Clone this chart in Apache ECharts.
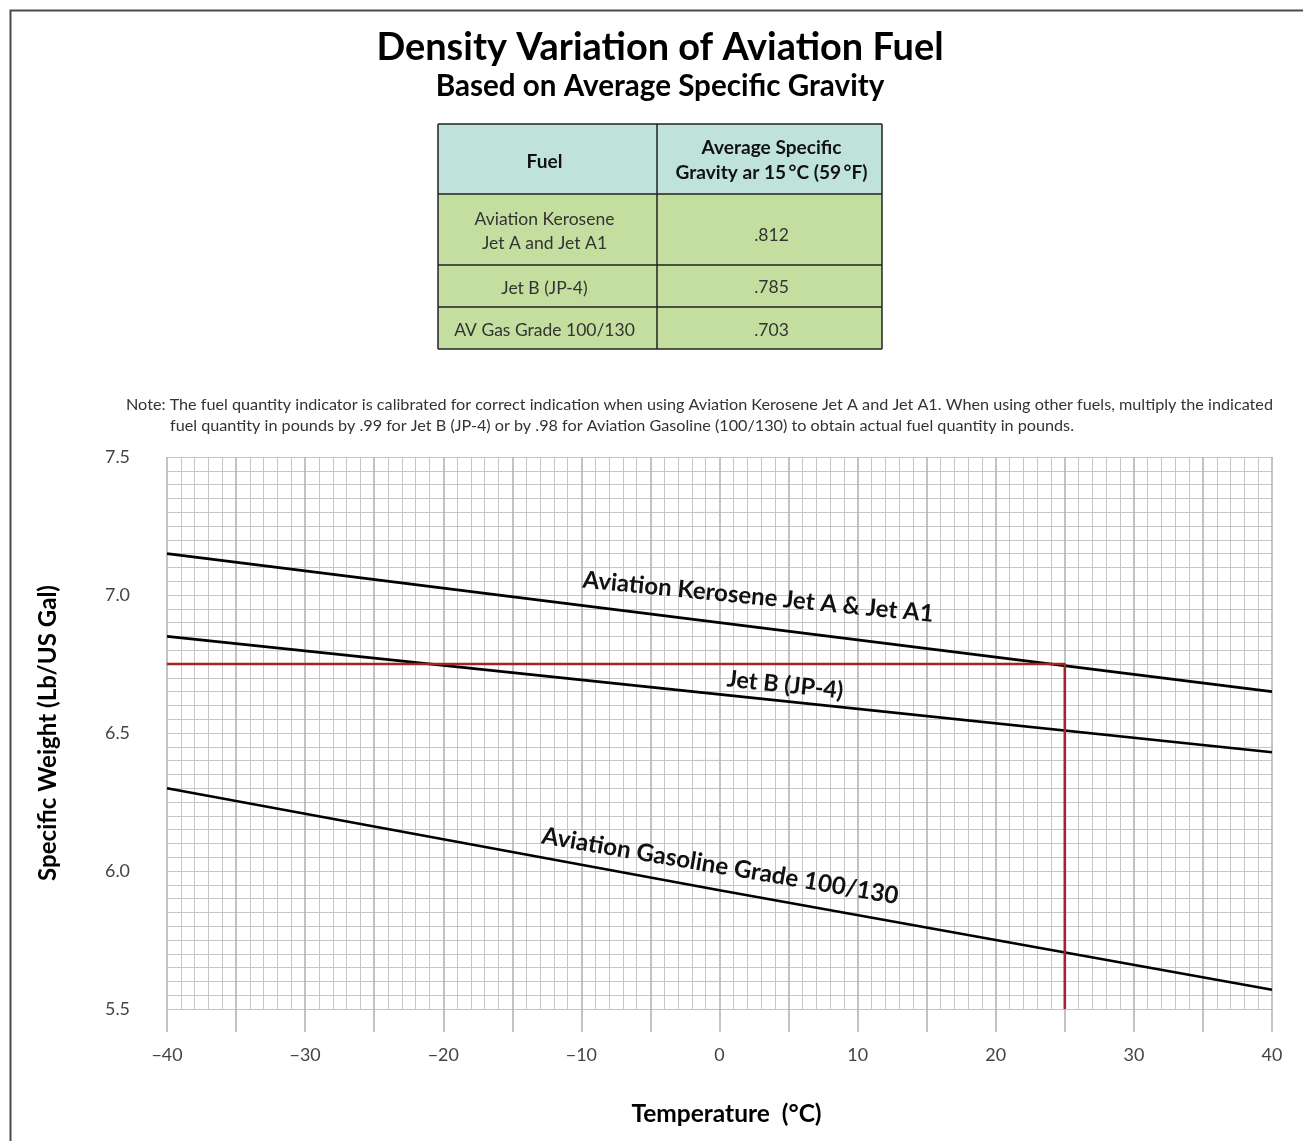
<!DOCTYPE html>
<html>
<head>
<meta charset="utf-8">
<script src="https://cdn.jsdelivr.net/npm/echarts@6/dist/echarts.min.js"></script>
<style>
html,body{margin:0;padding:0;background:#fff;}
#chart{width:1303px;height:1141px;}
</style>
</head>
<body>
<div id="chart"></div>
<script>
// ---- Data ----
const temperatures = [-40, 0, 40];
const keroseneWeight = [7.15, 6.90, 6.65];
const jetBWeight = [6.85, 6.64, 6.43];
const avgasWeight = [6.30, 5.93, 5.57];
const refTemp = 25;
const refWeight = 6.75;
const seriesNames = ['Aviation Kerosene Jet A & Jet A1', 'Jet B (JP-4)', 'Aviation Gasoline Grade 100/130'];
const labelAnchors = [[2.8, 6.993], [4.75, 6.674], [0.05, 6.018]];
const labelAngles = [5.6, 6.0, 9.7];
const tableFuel = ['Aviation Kerosene\nJet A and Jet A1', 'Jet B (JP-4)', 'AV Gas Grade 100/130'];
const tableGravity = ['.812', '.785', '.703'];
const tableHeader = ['Fuel', 'Average Specific\nGravity ar 15\u2009°C (59\u2009°F)'];
const titleText = 'Density Variation of Aviation Fuel';
const subtitleText = 'Based on Average Specific Gravity';
const noteLines = [
  'Note: The fuel quantity indicator is calibrated for correct indication when using Aviation Kerosene Jet A and Jet A1. When using other fuels, multiply the indicated',
  'fuel quantity in pounds by .99 for Jet B (JP-4) or by .98 for Aviation Gasoline (100/130) to obtain actual fuel quantity in pounds.'
];
const xAxisName = 'Temperature  (°C)';
const yAxisName = 'Specific Weight (Lb/US Gal)';

// ---- helpers ----
const FAM = 'Lato, "Open Sans", sans-serif';
const mctx = document.createElement('canvas').getContext('2d');
function fit(text, weight, width) {
  mctx.font = weight + ' 100px ' + FAM;
  const w = mctx.measureText(text).width;
  return Math.round(1000 * width / w) / 10;
}
const zip = (xs, ys) => xs.map((x, i) => [x, ys[i]]);

const chart = echarts.init(document.getElementById('chart'), null, {renderer: 'canvas'});

const gridColor = '#c6c6c6';
const majorColor = '#b4b4b4';
const tickFont = fit('7.0', 'normal', 25);

chart.setOption({
  animation: false,
  backgroundColor: '#fff',
  grid: {left: 167, right: 31, top: 457, bottom: 132},
  xAxis: {
    type: 'value', min: -40, max: 40, interval: 5,
    axisLine: {show: false},
    axisTick: {show: true, length: 23, lineStyle: {color: majorColor, width: 1.6}},
    splitLine: {show: true, lineStyle: {color: majorColor, width: 1.6}},
    minorTick: {show: false, splitNumber: 5},
    minorSplitLine: {show: true, lineStyle: {color: gridColor, width: 1}},
    axisLabel: {
      margin: 37, color: '#444', fontFamily: FAM, fontSize: tickFont,
      formatter: v => (v % 10 === 0 ? (v < 0 ? '\u2212' + Math.abs(v) : String(v)) : '')
    },
    name: xAxisName, nameLocation: 'middle', nameGap: 93,
    nameTextStyle: {fontFamily: FAM, fontWeight: 'bold', fontSize: fit(xAxisName, 'bold', 190), color: '#000', padding: [0, 0, 0, 14]}
  },
  yAxis: {
    type: 'value', min: 5.5, max: 7.5, interval: 0.1,
    axisLine: {show: false},
    axisTick: {show: true, length: 25, lineStyle: {color: gridColor, width: 1.2}},
    splitLine: {show: true, lineStyle: {color: gridColor, width: 1.2}},
    minorTick: {show: false, splitNumber: 2},
    minorSplitLine: {show: true, lineStyle: {color: gridColor, width: 1}},
    axisLabel: {
      margin: 37, color: '#444', fontFamily: FAM, fontSize: tickFont,
      formatter: v => (Math.abs(v * 2 - Math.round(v * 2)) < 1e-6 ? v.toFixed(1) : '')
    },
    name: yAxisName, nameLocation: 'middle', nameGap: 107, nameRotate: 90,
    nameTextStyle: {fontFamily: FAM, fontWeight: 'bold', fontSize: fit(yAxisName, 'bold', 296), color: '#000'}
  },
  series: [
    {name: seriesNames[0], type: 'line', symbol: 'none', silent: true, data: zip(temperatures, keroseneWeight), lineStyle: {color: '#000', width: 2.6}},
    {name: seriesNames[1], type: 'line', symbol: 'none', silent: true, data: zip(temperatures, jetBWeight), lineStyle: {color: '#000', width: 2.6}},
    {name: seriesNames[2], type: 'line', symbol: 'none', silent: true, data: zip(temperatures, avgasWeight), lineStyle: {color: '#000', width: 2.6}},
    {name: 'guide', type: 'line', symbol: 'none', silent: true, z: 3,
     data: [[temperatures[0], refWeight], [refTemp, refWeight], [refTemp, 5.5]],
     lineStyle: {color: '#a3232b', width: 2.6}}
  ]
});

// ---- graphics: frame, titles, table, note, line labels ----
const g = [];
g.push({type: 'rect', shape: {x: 10.5, y: 10.5, width: 1400, height: 1300}, style: {fill: 'none', stroke: '#4a4a4a', lineWidth: 2}, silent: true});
g.push({type: 'text', x: 660, y: 48, style: {text: titleText, font: 'bold ' + fit(titleText, 'bold', 568) + 'px ' + FAM, fill: '#000', textAlign: 'center', textVerticalAlign: 'middle'}});
g.push({type: 'text', x: 660, y: 86, style: {text: subtitleText, font: 'bold ' + fit(subtitleText, 'bold', 448) + 'px ' + FAM, fill: '#000', textAlign: 'center', textVerticalAlign: 'middle'}});

// table
const tX = [438, 657, 882];
const tY = [124, 194, 265, 307, 349];
const headFont = 'bold ' + fit('Gravity ar 15\u2009°C (59\u2009°F)', 'bold', 192) + 'px ' + FAM;
const bodyFont = 'normal ' + fit('AV Gas Grade 100/130', 'normal', 181) + 'px ' + FAM;
g.push({type: 'rect', shape: {x: tX[0], y: tY[0], width: tX[2] - tX[0], height: tY[1] - tY[0]}, style: {fill: '#bfe3db'}, silent: true});
g.push({type: 'rect', shape: {x: tX[0], y: tY[1], width: tX[2] - tX[0], height: tY[4] - tY[1]}, style: {fill: '#c3de9f'}, silent: true});
for (let i = 0; i < tY.length; i++) {
  g.push({type: 'line', shape: {x1: tX[0], y1: tY[i], x2: tX[2], y2: tY[i]}, style: {stroke: '#222', lineWidth: 1.5}, silent: true});
}
for (let j = 0; j < tX.length; j++) {
  g.push({type: 'line', shape: {x1: tX[j], y1: tY[0], x2: tX[j], y2: tY[4]}, style: {stroke: '#222', lineWidth: 1.5}, silent: true});
}
const colC = [(tX[0] + tX[1]) / 2 - 3, (tX[1] + tX[2]) / 2 + 2];
const headDy = [2.5, 1];
tableHeader.forEach((h, j) => {
  g.push({type: 'text', x: colC[j], y: (tY[0] + tY[1]) / 2 + headDy[j], style: {text: h, font: headFont, fill: '#111', textAlign: 'center', textVerticalAlign: 'middle', lineHeight: 25}});
});
const gravDy = [5.5, 1.5, 2];
tableFuel.forEach((f, i) => {
  const cy = (tY[i + 1] + tY[i + 2]) / 2;
  g.push({type: 'text', x: colC[0], y: cy + 2, style: {text: f, font: bodyFont, fill: '#333', textAlign: 'center', textVerticalAlign: 'middle', lineHeight: 24}});
  g.push({type: 'text', x: colC[1], y: cy + gravDy[i], style: {text: tableGravity[i], font: bodyFont, fill: '#333', textAlign: 'center', textVerticalAlign: 'middle'}});
});

// note
const noteFont = 'normal ' + fit(noteLines[0], 'normal', 1146) + 'px ' + FAM;
g.push({type: 'text', x: 126, y: 405, style: {text: noteLines[0], font: noteFont, fill: '#333', textAlign: 'left', textVerticalAlign: 'middle'}});
g.push({type: 'text', x: 170, y: 426, style: {text: noteLines[1], font: noteFont, fill: '#333', textAlign: 'left', textVerticalAlign: 'middle'}});

// line labels
const labelWidths = [352, 117, 362];
seriesNames.forEach((name, i) => {
  const p = chart.convertToPixel({gridIndex: 0}, labelAnchors[i]);
  g.push({type: 'text', x: p[0], y: p[1], rotation: -labelAngles[i] * Math.PI / 180, z: 10,
    style: {text: name, font: 'bold ' + fit(name, 'bold', labelWidths[i]) + 'px ' + FAM, fill: '#111', textAlign: 'center', textVerticalAlign: 'middle'}});
});

chart.setOption({graphic: g});
</script>
</body>
</html>
